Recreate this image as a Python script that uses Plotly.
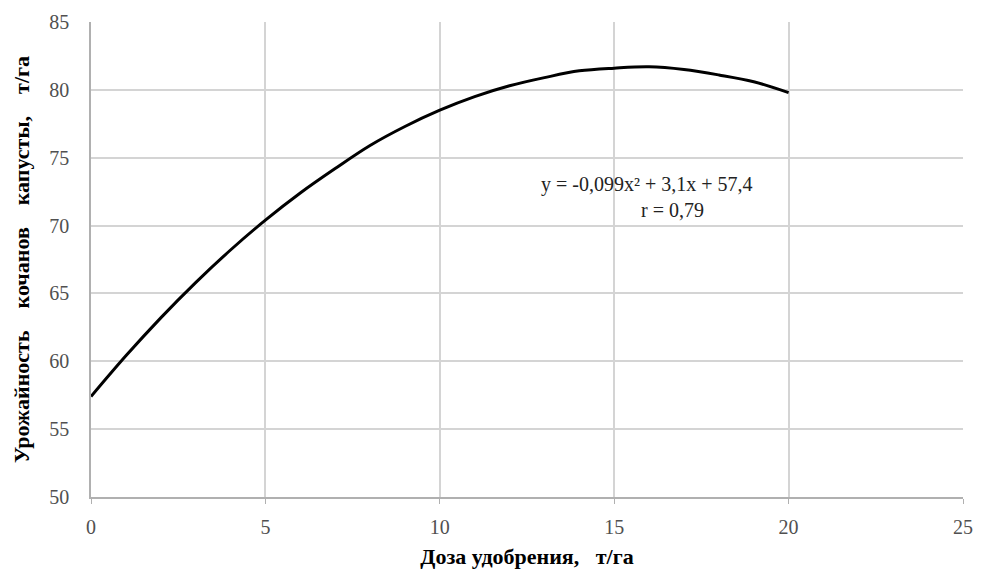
import plotly.graph_objects as go

# Fertilizer dose (t/ha) and cabbage-head yield (t/ha) along the fitted curve
dose = [0, 1, 2, 3, 4, 5, 6, 7, 8, 9, 10, 11, 12, 13, 14, 15, 16, 17, 18, 19, 20]
yield_t = [57.4, 60.4, 63.2, 65.8, 68.2, 70.4, 72.4, 74.2, 75.9, 77.3, 78.5,
           79.5, 80.3, 80.9, 81.4, 81.6, 81.7, 81.5, 81.1, 80.6, 79.8]

x_ticks = [0, 5, 10, 15, 20, 25]
y_ticks = [50, 55, 60, 65, 70, 75, 80, 85]

serif = "Liberation Serif, Times New Roman, serif"
nb = "\u00a0"

fig = go.Figure()
fig.add_trace(go.Scatter(
    x=dose, y=yield_t, mode="lines",
    line=dict(color="black", width=3, shape="spline"),
    showlegend=False, hoverinfo="skip",
))

fig.add_annotation(x=15.94, y=73.06, text="y = -0,099x² + 3,1x + 57,4",
                   showarrow=False, font=dict(family=serif, size=20, color="#222"))
fig.add_annotation(x=16.66, y=71.15, text="r = 0,79",
                   showarrow=False, font=dict(family=serif, size=20, color="#222"))

fig.update_layout(
    width=987, height=581,
    margin=dict(l=91, r=24, t=22, b=84),
    paper_bgcolor="white", plot_bgcolor="white",
    font=dict(family=serif, size=20, color="#505050"),
    xaxis=dict(
        range=[0, 25], tickvals=x_ticks, showgrid=True,
        gridcolor="#d4d4d4", gridwidth=1.5,
        showline=True, linecolor="#b0b0b0", linewidth=1.5,
        ticks="outside", ticklen=5, tickcolor="#b0b0b0", zeroline=False,
        ticklabelstandoff=6,
        title=dict(text="<b>Доза удобрения," + nb * 3 + "т/га</b>", standoff=12,
                   font=dict(family=serif, size=22, color="black")),
    ),
    yaxis=dict(
        range=[50, 85], tickvals=y_ticks, showgrid=True,
        gridcolor="#d4d4d4", gridwidth=1.5,
        showline=True, linecolor="#b0b0b0", linewidth=1.5,
        ticks="", zeroline=False, ticklabelstandoff=16,
        title=dict(text="<b>Урожайность" + nb * 4 + "кочанов" + nb * 4 + "капусты,"
                        + nb * 4 + "т/га</b>",
                   standoff=14,
                   font=dict(family=serif, size=22, color="black")),
    ),
)

fig.write_html("out.html")
